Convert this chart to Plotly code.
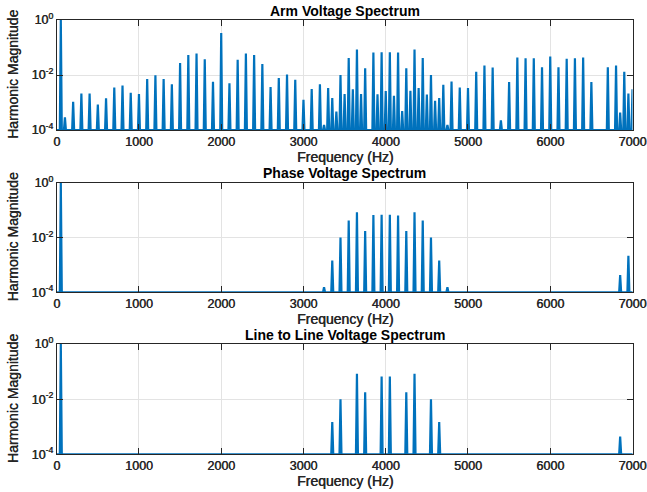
import plotly.graph_objects as go

# ---- harmonic content (frequency in Hz, magnitude relative to fundamental) ----
arm_freq = [50, 100, 200, 300, 400, 500, 600, 700, 800, 900, 1000,
            1100, 1200, 1300, 1400, 1500, 1600, 1700, 1800, 1900, 2000,
            2100, 2200, 2300, 2400, 2500, 2600, 2700, 2800, 2900, 3000,
            3100, 3200, 3250, 3300, 3350, 3400, 3450, 3500, 3550, 3600,
            3650, 3700, 3750, 3850, 3900, 3950, 4000, 4050, 4100, 4150,
            4200, 4250, 4300, 4350, 4400, 4450, 4500, 4550, 4600, 4650,
            4700, 4750, 4800, 4900, 5000, 5100, 5200, 5300, 5400, 5500,
            5600, 5700, 5800, 5900, 6000, 6100, 6200, 6300, 6400, 6500,
            6700, 6800, 6850, 6900, 6950, 7000]
arm_mag = [1.0, 2.88e-4, 1.07e-3, 2.14e-3, 2.14e-3, 8.51e-4, 1.41e-3, 3.47e-3, 4.17e-3, 2.24e-3, 2.04e-3,
           7.08e-3, 9.77e-3, 7.08e-3, 4.57e-3, 0.0275, 0.0537, 0.0603, 0.0372, 5.62e-3, 0.339,
           5.01e-3, 0.0355, 0.0603, 0.0537, 0.0251, 3.63e-3, 7.76e-3, 0.0105, 6.76e-3, 1.26e-3,
           3.09e-3, 4.57e-3, 1.51e-4, 3.39e-3, 1.45e-3, 4.68e-4, 0.0100, 2.04e-3, 0.0417, 3.02e-3,
           0.0851, 2.04e-3, 0.0174, 0.0661, 2.00e-3, 0.0676, 2.63e-3, 0.0676, 1.74e-3, 0.0661,
           4.90e-4, 0.0174, 2.69e-3, 0.0851, 3.39e-3, 0.0417, 1.95e-3, 0.0100, 1.15e-3, 1.45e-3,
           4.37e-3, 1.51e-4, 5.75e-3, 3.47e-3, 3.39e-3, 0.0132, 0.0219, 0.0186, 2.24e-4, 5.50e-3,
           0.0437, 0.0407, 0.0407, 0.0191, 0.0468, 0.0191, 0.0389, 0.0407, 0.0437, 5.50e-3,
           0.0191, 0.0219, 4.27e-4, 0.0132, 2.14e-3, 3.02e-3]

phase_freq = [50, 3250, 3350, 3450, 3550, 3650, 3750, 3850, 3950, 4050, 4150,
              4250, 4350, 4450, 4550, 4650, 4750, 6850, 6950]
phase_mag = [1.0, 1.55e-4, 1.45e-3, 0.0100, 0.0417, 0.0832, 0.0174, 0.0661, 0.0676, 0.0676, 0.0631,
             0.0174, 0.0832, 0.0417, 0.0100, 1.45e-3, 1.55e-4, 4.27e-4, 2.14e-3]

line_freq = [50, 3350, 3450, 3650, 3750, 3950, 4050, 4250, 4350, 4550, 4650, 6850]
line_mag = [1.0, 1.48e-3, 0.0100, 0.0832, 0.0178, 0.0661, 0.0661, 0.0178, 0.0832, 0.0100, 1.48e-3, 4.37e-4]

panel_titles = ["Arm Voltage Spectrum", "Phase Voltage Spectrum", "Line to Line Voltage Spectrum"]
x_ticks = [0, 1000, 2000, 3000, 4000, 5000, 6000, 7000]
y_ticks = [1e-4, 1e-2, 1.0]
y_tick_text = ["10<sup>-4</sup>", "10<sup>-2</sup>", "10<sup>0</sup>"]

# ---- styling ----
W, H = 647, 492
FONT = "Liberation Sans, Arial, Helvetica, sans-serif"
INK = "#262626"
BLUE = "#0072BD"
GRID = "#e3e3e3"
HEAVY = "0.45px 0 0 " + INK   # slightly thickened strokes for axis text
FLOOR = 1e-4          # magnitude floor of the spectrum
HALF_W = 12           # half width of each spectral line (Hz)
F_MAX = 7000

# plot-area boxes in pixels: (left, right, top, bottom)
X_LEFT, X_RIGHT = 56.7, 632.5
boxes_y = [(20.0, 130.0), (182.7, 292.3), (344.0, 454.3)]


def spectrum_line(freqs, mags):
    """Turn discrete harmonics into a spectrum trace sitting on the floor."""
    xs, ys = [0], [FLOOR]
    for f, m in sorted(zip(freqs, mags)):
        xs += [f - HALF_W, f, f + HALF_W]
        ys += [FLOOR, m, FLOOR]
    xs.append(F_MAX + HALF_W)
    ys.append(FLOOR)
    return xs, ys


series = [(arm_freq, arm_mag), (phase_freq, phase_mag), (line_freq, line_mag)]

fig = go.Figure()
annotations = []
for i, ((freqs, mags), title, (top, bot)) in enumerate(zip(series, panel_titles, boxes_y)):
    n = "" if i == 0 else str(i + 1)
    xs, ys = spectrum_line(freqs, mags)
    fig.add_trace(go.Scatter(x=xs, y=ys, mode="lines",
                             line=dict(color=BLUE, width=2.2),
                             xaxis="x" + n, yaxis="y" + n,
                             showlegend=False, hoverinfo="skip"))

    axis_common = dict(showline=True, linecolor=INK, linewidth=1, mirror="ticks",
                       ticks="inside", ticklen=6, tickwidth=1, tickcolor=INK,
                       showgrid=True, gridcolor=GRID, gridwidth=1, zeroline=False,
                       automargin=False,
                       tickfont=dict(family=FONT, size=12.5, color=INK, shadow=HEAVY))
    fig.layout["xaxis" + n] = dict(axis_common, domain=[X_LEFT / W, X_RIGHT / W],
                                   range=[0, F_MAX], tickmode="array", tickvals=x_ticks,
                                   anchor="y" + n)
    fig.layout["yaxis" + n] = dict(axis_common, domain=[1 - bot / H, 1 - top / H],
                                   type="log", range=[-4, 0], tickmode="array",
                                   tickvals=y_ticks, ticktext=y_tick_text,
                                   anchor="x" + n)

    xc = (X_LEFT + X_RIGHT) / 2 / W
    annotations.append(dict(text="<b>" + title + "</b>", x=xc, y=1 - (top - 9.5) / H,
                            xref="paper", yref="paper", xanchor="center", yanchor="middle",
                            showarrow=False, font=dict(family=FONT, size=14, color="black")))
    annotations.append(dict(text="Frequency (Hz)", x=xc, y=1 - (bot + 26.5) / H,
                            xref="paper", yref="paper", xanchor="center", yanchor="middle",
                            showarrow=False,
                            font=dict(family=FONT, size=14, color=INK, shadow=HEAVY)))
    annotations.append(dict(text="Harmonic Magnitude", x=13 / W, y=1 - (top + bot) / 2 / H,
                            xref="paper", yref="paper", xanchor="center", yanchor="middle",
                            textangle=-90, showarrow=False,
                            font=dict(family=FONT, size=14, color=INK, shadow=HEAVY)))

fig.update_layout(width=W, height=H, margin=dict(l=0, r=0, t=0, b=0),
                  paper_bgcolor="white", plot_bgcolor="white",
                  annotations=annotations, showlegend=False)

fig.write_html("out.html", config={"displayModeBar": False})
